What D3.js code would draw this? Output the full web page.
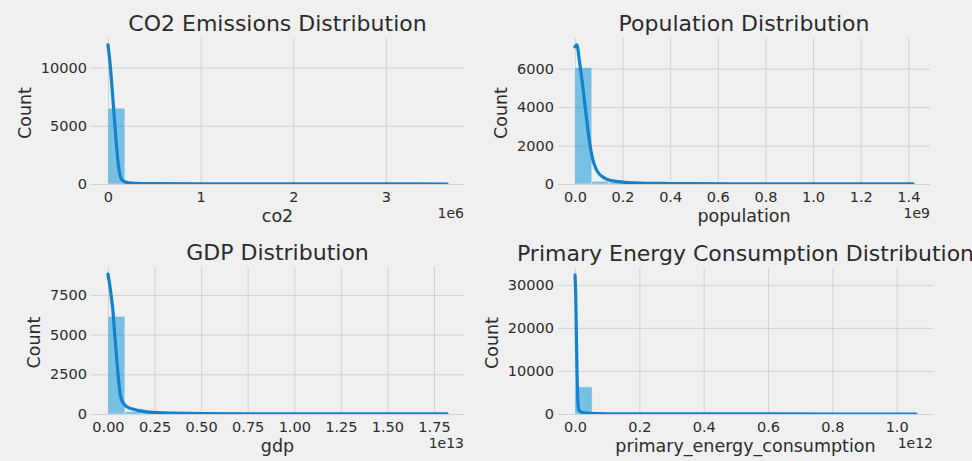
<!DOCTYPE html>
<html>
<head>
<meta charset="utf-8">
<script src="https://cdn.jsdelivr.net/npm/d3@7"></script>
<style>
  html, body { margin: 0; padding: 0; background: #f0f0f0; }
  svg { display: block; font-family: "DejaVu Sans", sans-serif; }
</style>
</head>
<body>
<svg id="chart" width="972" height="461"></svg>
<script>
// ---------- data ----------
const panelTitles = ["CO2 Emissions Distribution", "Population Distribution", "GDP Distribution", "Primary Energy Consumption Distribution"];
const xLabels = ["co2", "population", "gdp", "primary_energy_consumption"];
const offsetLabels = ["1e6", "1e9", "1e13", "1e12"];
const offsetScales = [1e6, 1e9, 1e13, 1e12];

// data range maximum (in offset units), 20 equal bins from 0 to max
const dataMax = [3.66, 1.42, 1.82, 1.06];

// histogram counts per bin (20 bins)
const co2Counts = [6520, 90, 40, 22, 14, 10, 8, 6, 4, 3, 3, 2, 2, 1, 1, 1, 1, 1, 0, 1];
const popCounts = [6050, 140, 70, 45, 30, 20, 14, 10, 8, 6, 5, 4, 3, 3, 2, 2, 2, 1, 3, 4];
const gdpCounts = [6150, 160, 80, 50, 35, 25, 18, 14, 10, 8, 6, 5, 4, 3, 3, 2, 2, 2, 1, 1];
const energyCounts = [6300, 120, 50, 28, 18, 12, 8, 6, 5, 4, 3, 3, 2, 2, 2, 1, 1, 1, 1, 1];

// KDE curves (x in offset units, y in counts)
const co2KdeX = [0, 0.02, 0.04, 0.06, 0.08, 0.10, 0.12, 0.14, 0.17, 0.22, 0.3, 0.5, 1, 1.5, 2, 2.5, 3, 3.66];
const co2KdeY = [11950, 10600, 8700, 6600, 4500, 2600, 1200, 500, 220, 110, 60, 30, 12, 8, 5, 4, 3, 2];
const popKdeX = [0, 0.008, 0.02, 0.034, 0.045, 0.055, 0.065, 0.076, 0.09, 0.105, 0.118, 0.14, 0.17, 0.2, 0.25, 0.3, 0.4, 0.5, 0.7, 0.9, 1.1, 1.3, 1.42];
const popKdeY = [7130, 7230, 6300, 4970, 3800, 2770, 1900, 1230, 750, 480, 360, 220, 140, 100, 60, 40, 25, 15, 10, 7, 5, 5, 3];
const gdpKdeX = [0, 0.01, 0.02, 0.027, 0.035, 0.048, 0.055, 0.065, 0.075, 0.091, 0.11, 0.134, 0.16, 0.2, 0.3, 0.5, 0.8, 1.0, 1.3, 1.5, 1.82];
const gdpKdeY = [8820, 8100, 7200, 6460, 5200, 3350, 2400, 1300, 850, 560, 400, 310, 230, 150, 70, 30, 15, 10, 7, 5, 3];
const energyKdeX = [0, 0.002, 0.004, 0.006, 0.008, 0.01, 0.013, 0.02, 0.03, 0.05, 0.1, 0.2, 0.4, 0.6, 0.8, 1.06];
const energyKdeY = [32300, 28000, 19000, 10000, 4500, 1800, 800, 400, 250, 130, 60, 25, 10, 6, 4, 2];

// tick values / labels
const co2XTicks = [0, 1, 2, 3];
const co2XTickLabels = ["0", "1", "2", "3"];
const popXTicks = [0, 0.2, 0.4, 0.6, 0.8, 1.0, 1.2, 1.4];
const popXTickLabels = ["0.0", "0.2", "0.4", "0.6", "0.8", "1.0", "1.2", "1.4"];
const gdpXTicks = [0, 0.25, 0.5, 0.75, 1.0, 1.25, 1.5, 1.75];
const gdpXTickLabels = ["0.00", "0.25", "0.50", "0.75", "1.00", "1.25", "1.50", "1.75"];
const energyXTicks = [0, 0.2, 0.4, 0.6, 0.8, 1.0];
const energyXTickLabels = ["0.0", "0.2", "0.4", "0.6", "0.8", "1.0"];
const co2YTicks = [0, 5000, 10000];
const popYTicks = [0, 2000, 4000, 6000];
const gdpYTicks = [0, 2500, 5000, 7500];
const energyYTicks = [0, 10000, 20000, 30000];

// ---------- layout ----------
const panels = [
  { counts: co2Counts, kx: co2KdeX, ky: co2KdeY, xt: co2XTicks, xtl: co2XTickLabels, yt: co2YTicks, box: { l: 91, r: 464, t: 38, b: 184 } },
  { counts: popCounts, kx: popKdeX, ky: popKdeY, xt: popXTicks, xtl: popXTickLabels, yt: popYTicks, box: { l: 558, r: 930, t: 38, b: 184 } },
  { counts: gdpCounts, kx: gdpKdeX, ky: gdpKdeY, xt: gdpXTicks, xtl: gdpXTickLabels, yt: gdpYTicks, box: { l: 91, r: 464, t: 267, b: 414 } },
  { counts: energyCounts, kx: energyKdeX, ky: energyKdeY, xt: energyXTicks, xtl: energyXTickLabels, yt: energyYTicks, box: { l: 558, r: 933, t: 268, b: 414 } }
];

const svg = d3.select("#chart");
svg.append("rect").attr("width", 972).attr("height", 461).attr("fill", "#f0f0f0");

const textColor = "#2b2b2b";
const gridColor = "#d2d2d2";
const barColor = "#008fd5";
const lineColor = "#1382cc";

panels.forEach((p, i) => {
  const { l, r, t, b } = p.box;
  const w = r - l, h = b - t;
  const max = dataMax[i];
  const x = d3.scaleLinear().domain([-0.05 * max, 1.05 * max]).range([0, w]);
  const peak = Math.max(d3.max(p.ky), d3.max(p.counts));
  const y = d3.scaleLinear().domain([0, 1.05 * peak]).range([h, 0]);

  const g = svg.append("g").attr("transform", `translate(${l},${t})`);
  const clipId = "clip" + i;
  g.append("clipPath").attr("id", clipId).append("rect").attr("width", w).attr("height", h);

  // grid
  const gx = g.append("g").attr("transform", `translate(0,${h})`)
    .call(d3.axisBottom(x).tickValues(p.xt).tickSize(-h).tickFormat(""));
  gx.select(".domain").remove();
  gx.selectAll("line").attr("stroke", gridColor).attr("stroke-width", 1);
  const gy = g.append("g")
    .call(d3.axisLeft(y).tickValues(p.yt).tickSize(-w).tickFormat(""));
  gy.select(".domain").remove();
  gy.selectAll("line").attr("stroke", gridColor).attr("stroke-width", 1);

  // histogram bars
  const nb = p.counts.length;
  const bw = max / nb;
  g.append("g").attr("clip-path", `url(#${clipId})`)
    .selectAll("rect").data(p.counts).join("rect")
    .attr("x", (d, k) => x(k * bw))
    .attr("width", (d, k) => x((k + 1) * bw) - x(k * bw))
    .attr("y", d => y(d))
    .attr("height", d => h - y(d))
    .attr("fill", barColor).attr("fill-opacity", 0.5)
    .attr("stroke", "#f0f0f0").attr("stroke-width", 0.5);

  // kde line
  const pts = p.kx.map((v, k) => [v, p.ky[k]]);
  g.append("path").attr("clip-path", `url(#${clipId})`)
    .datum(pts)
    .attr("d", d3.line().x(d => x(d[0])).y(d => y(d[1])).curve(d3.curveMonotoneX))
    .attr("fill", "none").attr("stroke", lineColor).attr("stroke-width", 3.2)
    .attr("stroke-linejoin", "round").attr("stroke-linecap", "round");

  // tick labels
  const ax = g.append("g").attr("transform", `translate(0,${h})`)
    .call(d3.axisBottom(x).tickValues(p.xt).tickSize(0).tickPadding(8)
      .tickFormat((d, k) => p.xtl[k]));
  ax.select(".domain").remove();
  ax.selectAll("text").attr("font-size", 14.5).attr("fill", textColor).attr("font-family", "DejaVu Sans");

  const ay = g.append("g")
    .call(d3.axisLeft(y).tickValues(p.yt).tickSize(0).tickPadding(4).tickFormat(d3.format("d")));
  ay.select(".domain").remove();
  ay.selectAll("text").attr("font-size", 14.5).attr("fill", textColor).attr("font-family", "DejaVu Sans");

  let maxW = 0;
  ay.selectAll("text").each(function () { maxW = Math.max(maxW, this.getComputedTextLength()); });

  // y label
  g.append("text")
    .attr("transform", `translate(${-4 - maxW - 10},${h / 2 + 2}) rotate(-90)`)
    .attr("text-anchor", "middle")
    .attr("font-size", 17.5).attr("fill", textColor)
    .text("Count");

  // x label
  g.append("text").attr("x", w / 2).attr("y", h + 38)
    .attr("text-anchor", "middle").attr("font-size", 17.5).attr("fill", textColor)
    .text(xLabels[i]);

  // offset text
  g.append("text").attr("x", w).attr("y", h + 34)
    .attr("text-anchor", "end").attr("font-size", 14).attr("fill", textColor)
    .text(offsetLabels[i]);

  // title
  g.append("text").attr("x", w / 2).attr("y", -7)
    .attr("text-anchor", "middle").attr("font-size", 22).attr("fill", textColor)
    .text(panelTitles[i]);
});
</script>
</body>
</html>
